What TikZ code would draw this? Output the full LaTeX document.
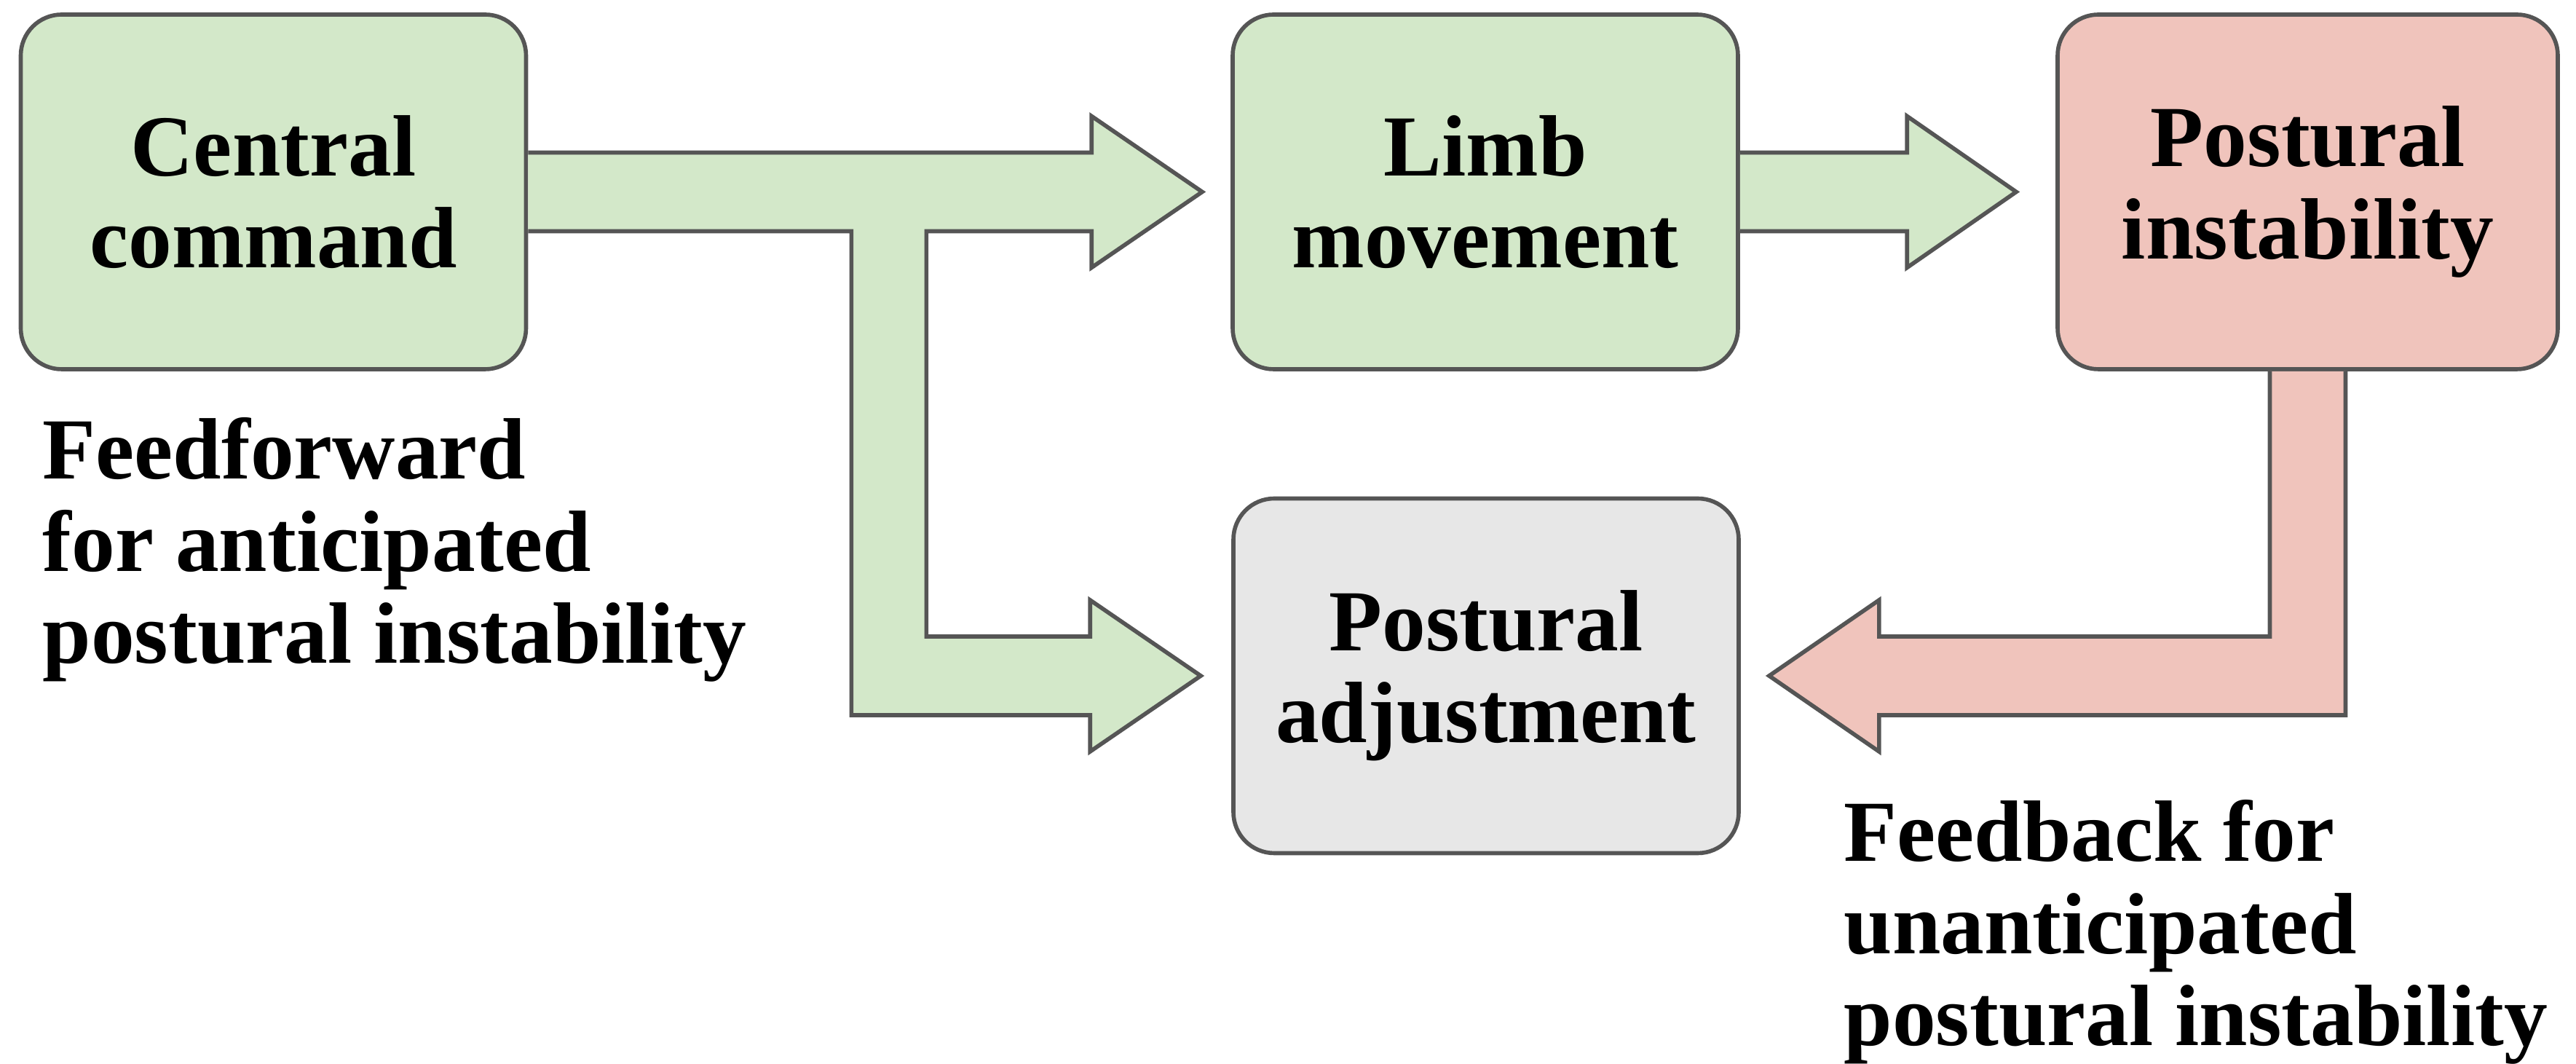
\documentclass[tikz,border=0pt]{standalone}
\usepackage{fontspec}
\setmainfont{Liberation Serif}
\usetikzlibrary{calc,positioning}

\definecolor{ffgreen}{HTML}{D3E8C9}
\definecolor{fbred}{HTML}{F0C4BC}
\definecolor{adjgray}{HTML}{E7E7E7}
\definecolor{edgegray}{HTML}{555555}

\tikzset{
  box/.style={draw=edgegray, line width=1.6pt, rounded corners=16pt, minimum width=6.94cm, minimum height=4.87cm, align=center, inner sep=0pt},
  fatarrow/.style={draw=edgegray, line width=1.6pt, line join=miter},
  lbl/.style={align=left, anchor=north west, inner sep=0pt},
}

\begin{document}
\begin{tikzpicture}[font=\fontsize{34}{36}\selectfont\bfseries]
\useasboundingbox (0,0) rectangle (35.38,14.61);

% boxes
\node[box, fill=ffgreen] (cc) at (3.755,11.975) {Central\\command};
\node[box, fill=ffgreen] (lm) at (20.40,11.975) {Limb\\movement};
\node[box, fill=fbred, minimum width=6.87cm] (pi) at (31.695,11.975) {Postural\\instability};
\node[box, fill=adjgray] (pa) at (20.41,5.33) {Postural\\adjustment};

% arrow tips and the branch point
\coordinate (ffTip) at ($(lm.west)+(-0.39,0)$);
\coordinate (ffLow) at ($(pa.west)+(-0.42,0)$);
\coordinate (lmTip) at ($(pi.west)+(-0.54,0)$);
\coordinate (fbTip) at ($(pa.east)+(0.39,0)$);
\coordinate (br) at ($(cc.east)+(4.955,0)$);

% feedforward: central command -> limb movement and postural adjustment
\filldraw[fatarrow, fill=ffgreen]
  ($(cc.east)+(0,0.54)$) -- ($(ffTip)+(-1.52,0.54)$) -- ($(ffTip)+(-1.52,1.04)$) -- (ffTip)
  -- ($(ffTip)+(-1.52,-1.04)$) -- ($(ffTip)+(-1.52,-0.54)$) -- ($(br)+(0.515,-0.54)$)
  -- ($(br |- ffLow)+(0.515,0.54)$) -- ($(ffLow)+(-1.52,0.54)$) -- ($(ffLow)+(-1.52,1.04)$) -- (ffLow)
  -- ($(ffLow)+(-1.52,-1.04)$) -- ($(ffLow)+(-1.52,-0.54)$) -- ($(br |- ffLow)+(-0.515,-0.54)$)
  -- ($(br)+(-0.515,-0.54)$) -- ($(cc.east)+(0,-0.54)$);

% limb movement -> postural instability
\filldraw[fatarrow, fill=ffgreen]
  ($(lm.east)+(0,0.54)$) -- ($(lmTip)+(-1.50,0.54)$) -- ($(lmTip)+(-1.50,1.04)$) -- (lmTip)
  -- ($(lmTip)+(-1.50,-1.04)$) -- ($(lmTip)+(-1.50,-0.54)$) -- ($(lm.east)+(0,-0.54)$);

% feedback: postural instability -> postural adjustment
\filldraw[fatarrow, fill=fbred]
  ($(pi.south)+(-0.52,0)$) -- ($(pi.south |- fbTip)+(-0.52,0.54)$) -- ($(fbTip)+(1.51,0.54)$)
  -- ($(fbTip)+(1.51,1.04)$) -- (fbTip) -- ($(fbTip)+(1.51,-1.04)$) -- ($(fbTip)+(1.51,-0.54)$)
  -- ($(pi.south |- fbTip)+(0.52,-0.54)$) -- ($(pi.south)+(0.52,0)$);

% labels
\node[lbl] (ff) at (0.58,8.88) {Feedforward\\for anticipated\\postural instability};
\node[lbl] (fb) at (25.32,3.63) {Feedback for\\unanticipated\\postural instability};
\end{tikzpicture}
\end{document}
